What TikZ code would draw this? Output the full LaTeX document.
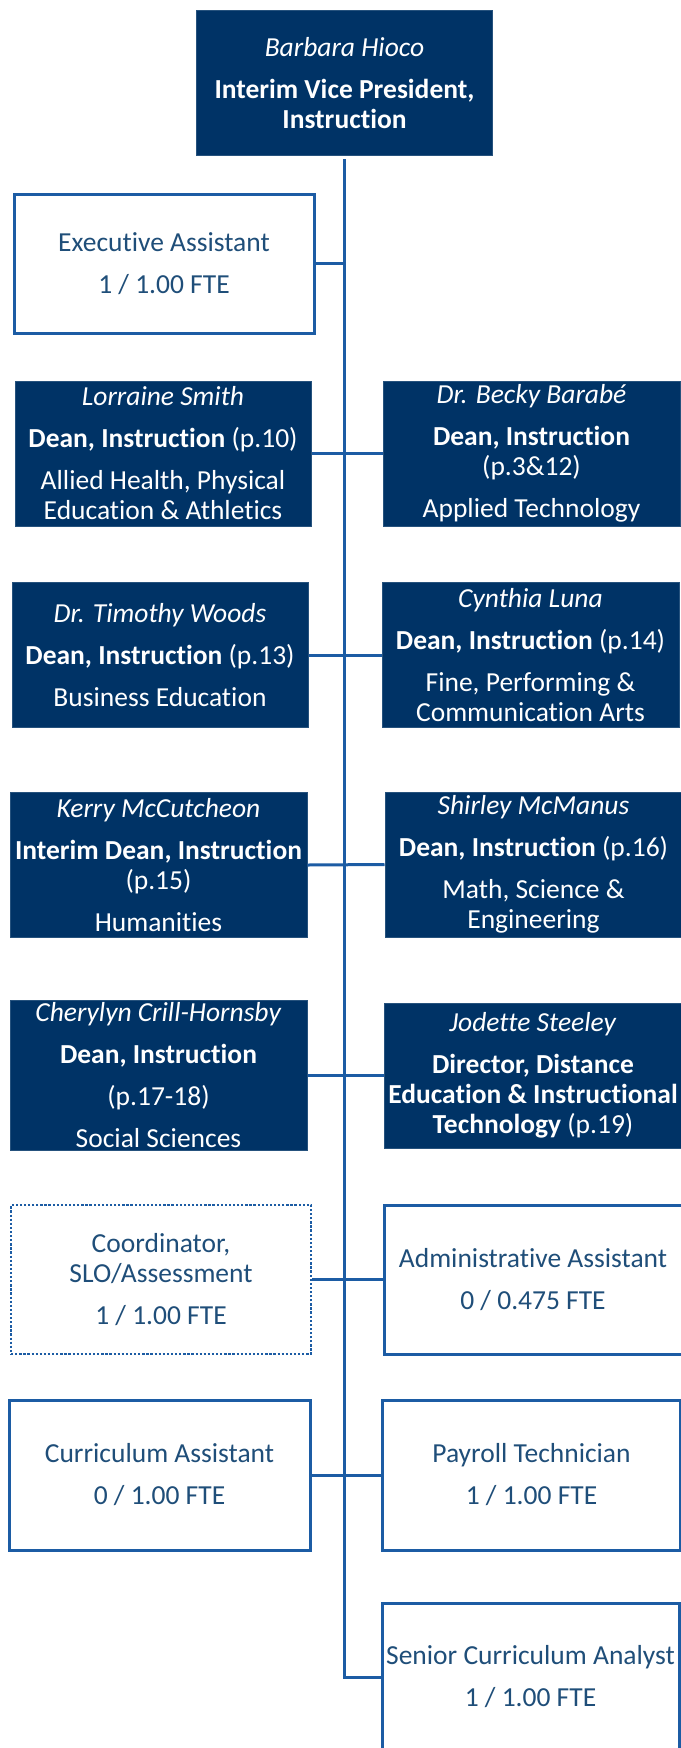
\documentclass[tikz,border=0pt]{standalone}
\usepackage{fontspec}
\setmainfont[Ligatures=NoCommon]{Carlito}
\definecolor{navy}{RGB}{0,51,102}
\definecolor{rule}{RGB}{28,92,164}
\definecolor{ink}{RGB}{31,78,121}

\begin{document}
\begin{tikzpicture}[x=1pt,y=-1pt,
    every node/.style={align=center,inner sep=2pt,
      font=\fontsize{27.5}{30}\selectfont},
    deanbox/.style={fill=navy,draw=navy!85!white,line width=1pt,
      text=white,minimum width=296pt,minimum height=145pt},
    staffbox/.style={draw=rule,line width=3pt,fill=white,text=ink,
      minimum width=298pt,minimum height=149pt},
    openbox/.style={staffbox,line width=2.3pt,dash pattern=on 2.3pt off 1.8pt},
    link/.style={draw=rule,line width=3pt}]
  \useasboundingbox (0,0) rectangle (680,1748);

  % head of the office
  \node[deanbox] (vp) at (344.5,83) {\textit{Barbara Hioco}\\[12pt]
    \textbf{Interim Vice President,}\\\textbf{Instruction}};

  % left column
  \node[staffbox,minimum width=300pt,minimum height=139pt] (exec) at (164,263.5)
    {Executive Assistant\\[12pt]1 / 1.00 FTE};
  \node[deanbox] (lorraine) at (163,453.5) {\textit{Lorraine Smith}\\[12pt]
    \textbf{Dean, Instruction} (p.10)\\[12pt]
    Allied Health, Physical\\Education \& Athletics};
  \node[deanbox] (timothy) at (160,655) {\textit{Dr. Timothy Woods}\\[12pt]
    \textbf{Dean, Instruction} (p.13)\\[12pt]Business Education};
  \node[deanbox,minimum width=297pt] (kerry) at (158.5,865) {\textit{Kerry McCutcheon}\\[12pt]
    \textbf{Interim Dean, Instruction}\\(p.15)\\[12pt]Humanities};
  \node[deanbox,minimum width=297pt] (cherylyn) at (158.5,1075.5) {\textit{Cherylyn Crill-Hornsby}\\[12pt]
    \textbf{Dean, Instruction}\\[12pt](p.17-18)\\[12pt]Social Sciences};
  \node[openbox,minimum width=300pt] (coord) at (161,1279.5)
    {Coordinator,\\SLO/Assessment\\[12pt]1 / 1.00 FTE};
  \node[staffbox,minimum width=301pt,minimum height=150pt] (curric) at (159.5,1475)
    {Curriculum Assistant\\[12pt]0 / 1.00 FTE};

  % right column
  \node[deanbox,minimum width=297pt] (becky) at (531.5,453.5) {\textit{Dr. Becky Barab\'e}\\[12pt]
    \textbf{Dean, Instruction}\\(p.3\&12)\\[12pt]Applied Technology};
  \node[deanbox,minimum width=297pt] (cynthia) at (530.5,655) {\textit{Cynthia Luna}\\[12pt]
    \textbf{Dean, Instruction} (p.14)\\[12pt]
    Fine, Performing \&\\Communication Arts};
  \node[deanbox,minimum width=297pt] (shirley) at (533.5,864.5) {\textit{Shirley McManus}\\[12pt]
    \textbf{Dean, Instruction} (p.16)\\[12pt]Math, Science \&\\Engineering};
  \node[deanbox,minimum width=297pt] (jodette) at (533,1075.5) {\textit{Jodette Steeley}\\[12pt]
    \textbf{Director, Distance}\\\textbf{Education \& Instructional}\\
    \textbf{Technology} (p.19)};
  \node[staffbox] (admin) at (533,1279.5)
    {Administrative Assistant\\[12pt]0 / 0.475 FTE};
  \node[staffbox,minimum height=150pt] (payroll) at (531.5,1475)
    {Payroll Technician\\[12pt]1 / 1.00 FTE};
  \node[staffbox,minimum width=297pt,minimum height=148pt] (senior) at (530.5,1677)
    {Senior Curriculum Analyst\\[12pt]1 / 1.00 FTE};

  % connectors
  \begin{scope}[link]
    \draw[shorten <=3pt] (vp.south) |- (senior.west);
    \draw (exec.east) -- (exec.east -| vp.south);
    \draw (lorraine.east) -- (becky.west);
    \draw (timothy.east) -- (cynthia.west);
    \draw (kerry.east) -- (shirley.west);
    \draw (cherylyn.east) -- (jodette.west);
    \draw (coord.east) -- (admin.west);
    \draw (curric.east) -- (payroll.west);
  \end{scope}
\end{tikzpicture}
\end{document}
